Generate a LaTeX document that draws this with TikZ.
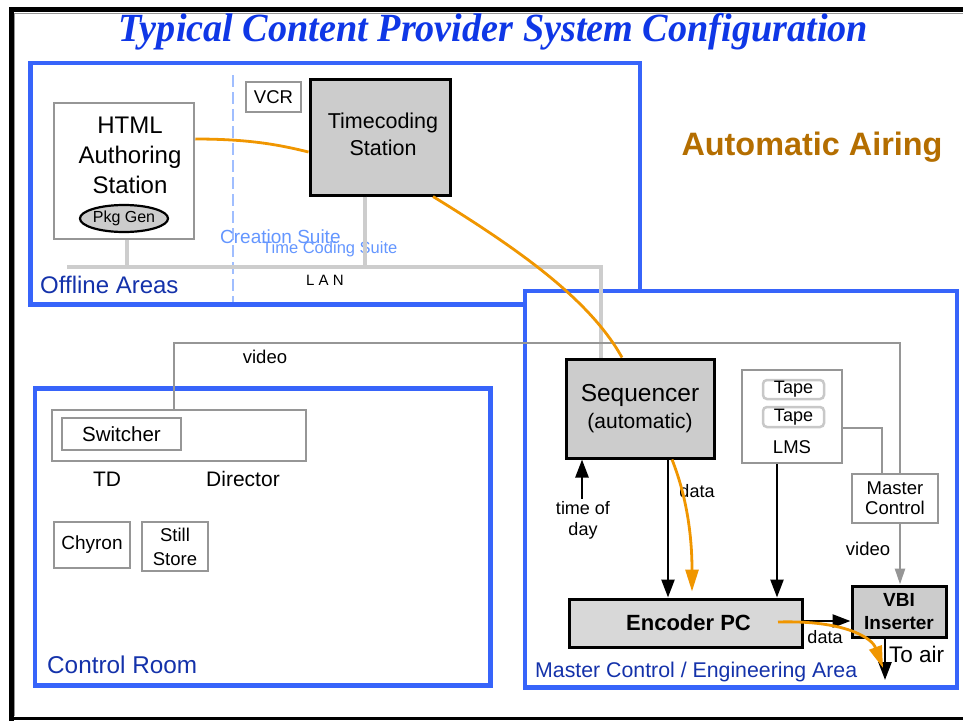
\documentclass[tikz,border=0pt]{standalone}
\usepackage{graphicx}
\usepackage{fontspec}
\setmainfont{Liberation Sans}
\newfontfamily\titlefont{Liberation Serif}
\usetikzlibrary{arrows.meta,shapes.geometric}
\definecolor{areablue}{RGB}{55,100,250}
\definecolor{labelblue}{RGB}{20,50,170}
\definecolor{titleblue}{RGB}{15,55,230}
\definecolor{boxgray}{RGB}{150,150,150}
\definecolor{langray}{RGB}{205,205,205}
\definecolor{fillgray}{RGB}{204,204,204}
\definecolor{encgray}{RGB}{216,216,216}
\definecolor{orangec}{RGB}{240,150,0}
\definecolor{airing}{RGB}{180,110,0}
\definecolor{suiteblue}{RGB}{100,150,255}
\definecolor{dashblue}{RGB}{160,190,255}
\definecolor{tapegray}{RGB}{200,200,200}
\begin{document}
\begin{tikzpicture}[x=1pt,y=-1pt,
  area/.style={draw=areablue, line width=4.5pt},
  graybox/.style={draw=boxgray, line width=2.5pt, fill=white, inner sep=0pt, align=center},
  darkbox/.style={draw=black, line width=3pt, fill=fillgray, inner sep=0pt, align=center},
  tapebox/.style={draw=tapegray, line width=2.5pt, rounded corners=4pt, fill=white, inner sep=0pt},
  lan/.style={draw=langray, line width=4pt},
  vid/.style={draw=boxgray, line width=2.5pt},
  arr/.style={draw=black, line width=2.5pt, -{Triangle[length=18pt,width=13pt]}},
  garr/.style={draw=boxgray, line width=2.5pt, -{Triangle[length=16pt,width=10pt]}},
  oarr/.style={draw=orangec, line width=2.8pt},
  otip/.style={-{Triangle[length=22pt,width=13pt]}},
  lbl/.style={inner sep=0pt},
  arealbl/.style={inner sep=0pt, text=labelblue, anchor=base west}
]
\useasboundingbox (0,0) rectangle (963,721);
% frame
\draw[line width=5pt] (963,9.5) -- (11,9.5) -- (11,721);
\draw[boxgray, line width=1.2pt] (963,13.5) -- (14.5,13.5) -- (14.5,716);
\draw[line width=3pt] (11,718.5) -- (963,718.5);

% title
\node[lbl, anchor=base, text=titleblue] (title) at (493,41)
  {\scalebox{0.955}[1]{\titlefont\bfseries\itshape\fontsize{40}{44}\selectfont Typical Content Provider System Configuration}};
\node[lbl, anchor=base, text=airing, font=\bfseries\fontsize{32.4}{38}\selectfont] (airing) at (812,155) {Automatic Airing};

% areas
\draw[area] (30.5,63) rectangle (640,304.5);
\draw[area, fill=white] (525,291) rectangle (957,687.5);
\draw[area] (35,388.5) rectangle (490.5,685.5);
\node[arealbl, font=\fontsize{24}{28}\selectfont] (offl) at (40,293) {Offline Areas};
\node[arealbl, font=\fontsize{24.3}{28}\selectfont] (ctrl) at (47,673) {Control Room};
\node[arealbl, font=\fontsize{21.3}{25}\selectfont] (mcea) at (535,677) {Master Control / Engineering Area};

% offline area
\draw[dashblue, line width=2pt, dash pattern=on 12pt off 5pt] (233,75) -- (233,302);
\node[lbl, anchor=base west, text=suiteblue, font=\fontsize{19}{22}\selectfont] (cs) at (220,243) {Creation Suite};
\node[lbl, anchor=base west, text=suiteblue, font=\fontsize{16.5}{20}\selectfont] (tcsuite) at (262,253) {Time Coding Suite};
\node[graybox, minimum width=140pt, minimum height=136pt] (html) at (124,171) {};
\node[lbl, align=center, font=\fontsize{24}{30}\selectfont] (htmltext) at (130,155) {HTML\\Authoring\\Station};
\node[ellipse, draw=black, line width=2.2pt, fill=fillgray, minimum width=86pt, minimum height=27pt, inner sep=0pt, font=\fontsize{16}{18}\selectfont] (pkg) at (124,218.5) {Pkg Gen};
\node[graybox, minimum width=55pt, minimum height=30pt, font=\fontsize{18.5}{20}\selectfont] (vcr) at (273.5,97) {VCR};
\node[darkbox, minimum width=140pt, minimum height=116pt] (tcs) at (380,137) {};
\node[lbl, align=center, font=\fontsize{21.5}{27}\selectfont] (tcstext) at (383,134) {Timecoding\\Station};
\node[lbl, anchor=base, font=\fontsize{15}{17}\selectfont] (lantext) at (325,285) {L A N};

% master control area
\node[darkbox, minimum width=148pt, minimum height=99pt, font=\fontsize{24.5}{27}\selectfont] (seq) at (640,408.5) {Sequencer\\{\fontsize{21}{25}\selectfont(automatic)}};
\node[graybox, minimum width=100pt, minimum height=93pt] (lms) at (792,416.5) {};
\node[tapebox, minimum width=61pt, minimum height=19pt, font=\fontsize{18}{20}\selectfont] (tape1) at (793.5,389.5) {Tape};
\node[tapebox, minimum width=61pt, minimum height=20pt, font=\fontsize{18}{20}\selectfont] (tape2) at (793.5,417) {Tape};
\node[lbl, anchor=base, font=\fontsize{18.5}{20}\selectfont] (lmstext) at (792,453) {LMS};
\node[graybox, minimum width=86pt, minimum height=49pt, font=\fontsize{18.5}{20}\selectfont] (mc) at (895,498.5) {Master\\Control};
\node[darkbox, fill=encgray, minimum width=233pt, minimum height=48pt, font=\bfseries\fontsize{22}{26}\selectfont] (enc) at (685.5,623) {\hspace*{6pt}Encoder PC};
\node[darkbox, minimum width=94pt, minimum height=51pt, font=\bfseries\fontsize{19}{23}\selectfont] (vbi) at (899,611.5) {VBI\\Inserter};
\node[lbl, align=center, font=\fontsize{18}{21}\selectfont] (tod) at (583,520) {time of\\day};
\node[lbl, anchor=base, font=\fontsize{18}{20}\selectfont] (data1) at (697,497) {data};
\node[lbl, anchor=base, font=\fontsize{18}{20}\selectfont] (data2) at (825,643) {data};
\node[lbl, anchor=base, font=\fontsize{18.5}{20}\selectfont] (video2) at (868,555) {video};
\node[lbl, anchor=base west, font=\fontsize{22.5}{25}\selectfont] (toair) at (889,662) {To air};
\coordinate (air) at (885,680);
\coordinate (airo) at (883,668);

% control room
\node[graybox, minimum width=254pt, minimum height=51pt] (tdbox) at (179,435.5) {};
\node[graybox, minimum width=119pt, minimum height=32pt, font=\fontsize{20.5}{22}\selectfont] (sw) at (121.5,434) {Switcher};
\node[lbl, anchor=base, font=\fontsize{21}{24}\selectfont] (td) at (107,486) {TD};
\node[lbl, anchor=base, font=\fontsize{21}{24}\selectfont] (dir) at (243,486) {Director};
\node[graybox, minimum width=76pt, minimum height=46pt, font=\fontsize{19}{22}\selectfont] (chy) at (92,545) {Chyron};
\node[graybox, minimum width=66pt, minimum height=49pt, font=\fontsize{18.5}{24}\selectfont] (still) at (175,546.5) {Still\\Store};
\node[lbl, anchor=base, font=\fontsize{18.5}{20}\selectfont] (video1) at (265,363) {video};
\coordinate (vidc) at (500,343);
\coordinate (lanL) at (67,267);
\coordinate (lanR) at (601,267);

% LAN
\draw[lan] (lanL) -- (lanR) -- (lanR |- seq.north);
\draw[lan] ([xshift=3pt]html.south) -- ([xshift=3pt]html.south |- lanL);
\draw[lan] ([xshift=-15pt]tcs.south) -- ([xshift=-15pt]tcs.south |- lanL);

% video lines
\draw[vid] ([xshift=-5pt]tdbox.north) |- (vidc) -| ([xshift=5pt]mc.north);
\draw[vid] ([yshift=-11.5pt]lms.east) -| ([xshift=-13pt]mc.north);
\draw[garr] ([xshift=5pt]mc.south) -- ([xshift=5pt]mc.south |- vbi.north);

% black arrows
\draw[arr] ([xshift=28pt]seq.south) -- ([xshift=28pt]seq.south |- enc.north);
\draw[arr] ([xshift=-15pt]lms.south) -- ([xshift=-15pt]lms.south |- enc.north);
\draw[arr] ([yshift=2pt]tod.north -| 582,0) -- (582,0 |- seq.south);
\draw[arr] ([yshift=2pt]enc.east) -- ([yshift=2pt]enc.east -| vbi.west);
\draw[arr] ([xshift=-14pt]vbi.south) -- (air);

% orange flow
\draw[oarr] ([yshift=32pt]html.east) .. controls (250,139) and (280,145) .. ([yshift=-15pt]tcs.west);
\draw[oarr] ([xshift=53pt]tcs.south) .. controls (520,250) and (590,300) .. ([xshift=-18pt]seq.north);
\draw[oarr, otip] ([xshift=32pt]seq.south) .. controls (688,500) and (692,540) .. ([xshift=6.5pt,yshift=6pt]enc.north);
\draw[oarr, otip] ([xshift=92.5pt,yshift=1pt]enc.center) .. controls (845,620) and (872,638) .. (airo);
\end{tikzpicture}
\end{document}
